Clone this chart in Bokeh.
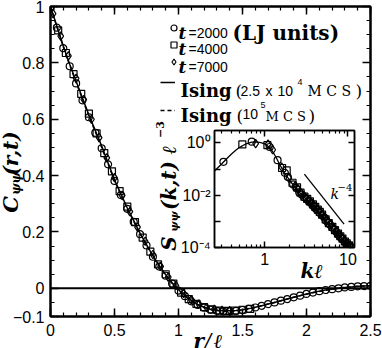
import math
from bokeh.plotting import figure
from bokeh.models import (Range1d, FixedTicker, LinearAxis, LogAxis, Label,
                          Legend, LegendItem, Span)
from bokeh.core.properties import value
from bokeh.embed import file_html
from bokeh.resources import INLINE

# ---------------- data: main panel C(r,t) ----------------
r_t2000 = [0.00, 0.05, 0.10, 0.15, 0.20, 0.25, 0.30, 0.35, 0.40, 0.45, 0.50,
           0.55, 0.60, 0.65, 0.70, 0.75, 0.80, 0.85, 0.90, 0.95, 1.00, 1.05,
           1.10, 1.15, 1.20, 1.25, 1.30, 1.35, 1.40, 1.45, 1.50, 1.55, 1.60,
           1.65, 1.70, 1.75, 1.80, 1.85, 1.90, 1.95, 2.00, 2.05, 2.10, 2.15,
           2.20, 2.25, 2.30, 2.35, 2.40, 2.45, 2.50]
C_t2000 = [1.000, 0.925, 0.852, 0.788, 0.727, 0.667, 0.607, 0.552, 0.497, 0.440,
           0.381, 0.331, 0.282, 0.236, 0.192, 0.152, 0.112, 0.077, 0.045, 0.017,
           -0.008, -0.028, -0.046, -0.059, -0.069, -0.076, -0.080, -0.082, -0.082,
           -0.080, -0.077, -0.073, -0.068, -0.062, -0.056, -0.050, -0.044, -0.038,
           -0.032, -0.026, -0.020, -0.015, -0.010, -0.006, -0.003, 0.000, 0.003,
           0.005, 0.007, 0.008, 0.009]

r_t4000 = [0.00, 0.06, 0.12, 0.18, 0.24, 0.30, 0.36, 0.42, 0.48, 0.54, 0.60,
           0.66, 0.72, 0.78, 0.84, 0.90, 0.96, 1.02, 1.08, 1.14, 1.20, 1.26,
           1.32, 1.38, 1.44, 1.50, 1.56]
C_t4000 = [1.000, 0.915, 0.835, 0.760, 0.690, 0.620, 0.550, 0.480, 0.415, 0.345,
           0.290, 0.235, 0.180, 0.130, 0.085, 0.050, 0.017, -0.015, -0.038, -0.055,
           -0.067, -0.075, -0.079, -0.080, -0.079, -0.076, -0.073]

r_t7000 = [0.02, 0.08, 0.14, 0.20, 0.26, 0.32, 0.38, 0.44, 0.50, 0.56, 0.62,
           0.68, 0.74, 0.80, 0.86, 0.92, 0.98, 1.04, 1.10, 1.16, 1.22, 1.28,
           1.34, 1.40]
C_t7000 = [0.975, 0.895, 0.825, 0.745, 0.670, 0.600, 0.535, 0.463, 0.393, 0.330,
           0.272, 0.217, 0.167, 0.120, 0.078, 0.040, 0.010, -0.018, -0.040, -0.056,
           -0.068, -0.075, -0.078, -0.079]

r_ising = [0.00, 0.05, 0.10, 0.15, 0.20, 0.25, 0.30, 0.35, 0.40, 0.45, 0.50,
           0.55, 0.60, 0.65, 0.70, 0.75, 0.80, 0.85, 0.90, 0.95, 1.00, 1.05,
           1.10, 1.15, 1.20, 1.25, 1.30, 1.35, 1.40, 1.45, 1.50, 1.55, 1.60,
           1.65, 1.70, 1.75, 1.80, 1.85, 1.90, 1.95, 2.00, 2.05, 2.10, 2.15,
           2.20, 2.25, 2.30, 2.35, 2.40, 2.45, 2.50]
C_ising_25e4 = [1.000, 0.930, 0.860, 0.795, 0.735, 0.675, 0.615, 0.560, 0.505, 0.445,
                0.385, 0.335, 0.285, 0.240, 0.195, 0.155, 0.115, 0.080, 0.048, 0.020,
                -0.005, -0.025, -0.043, -0.057, -0.067, -0.074, -0.078, -0.080, -0.080,
                -0.079, -0.076, -0.072, -0.067, -0.062, -0.056, -0.050, -0.044, -0.038,
                -0.032, -0.026, -0.020, -0.015, -0.010, -0.006, -0.003, 0.000, 0.003,
                0.005, 0.007, 0.008, 0.009]
C_ising_1e5 = [1.000, 0.928, 0.857, 0.792, 0.731, 0.671, 0.611, 0.556, 0.500, 0.441,
               0.382, 0.332, 0.283, 0.238, 0.193, 0.153, 0.113, 0.078, 0.046, 0.018,
               -0.007, -0.027, -0.045, -0.058, -0.068, -0.075, -0.079, -0.081, -0.081,
               -0.080, -0.077, -0.073, -0.068, -0.062, -0.056, -0.050, -0.044, -0.038,
               -0.032, -0.026, -0.021, -0.016, -0.011, -0.007, -0.003, 0.000, 0.003,
               0.005, 0.007, 0.008, 0.009]

x_ticks = [0, 0.5, 1, 1.5, 2, 2.5]
x_tick_labels = ["0", "0.5", "1", "1.5", "2", "2.5"]
y_ticks = [-0.1, 0, 0.2, 0.4, 0.6, 0.8, 1]
y_tick_labels = ["\u22120.1", "0", "0.2", "0.4", "0.6", "0.8", "1"]

# ---------------- data: inset S(k,t) ----------------
k_t2000 = [0.32, 0.70, 1.15, 1.43, 1.75, 1.9, 2.2, 2.4, 2.6, 2.8, 3.0, 3.2, 3.4,
           3.6, 3.85, 4.1, 4.35, 4.6, 4.9, 5.2, 5.5, 5.8, 6.1, 6.5, 6.9, 7.3,
           7.7, 8.1, 8.6, 9.1, 9.6, 10.2, 10.8]
S_t2000 = [0.19, 1.12, 0.70, 0.22, 0.072, 0.05, 0.026, 0.019, 0.013, 0.0105,
           0.0083, 0.0070, 0.0058, 0.0050, 0.0039, 0.0031, 0.0026, 0.0021, 0.0017,
           0.0014, 0.00105, 0.00088, 0.00074, 0.00060, 0.00048, 0.00039, 0.00031,
           0.00025, 0.00021, 0.00017, 0.00014, 0.000122, 0.000105]
k_t4000 = [0.54, 1.08, 1.62, 1.84, 2.16, 2.45, 2.7, 3.0, 3.25, 3.5, 3.8, 4.05,
           4.35, 4.6, 4.9, 5.4, 5.9, 6.5, 7.0, 7.6, 8.1, 8.6, 9.2, 9.7, 10.3, 11.2]
S_t4000 = [0.88, 0.82, 0.11, 0.09, 0.03, 0.02, 0.0125, 0.0088, 0.0072, 0.0058,
           0.0045, 0.0036, 0.0028, 0.0023, 0.0018, 0.0012, 0.00085, 0.00062,
           0.00046, 0.00034, 0.00027, 0.00022, 0.00017, 0.000145, 0.00012, 0.0001]
k_t7000 = [0.78, 1.1, 1.25, 1.6, 1.95, 2.3, 2.5, 2.75, 3.05, 3.35, 3.65, 3.95,
           4.25, 4.55, 4.9, 5.3, 5.7, 6.2, 6.7, 7.2, 7.8, 8.4, 9.0, 9.6, 10.2]
S_t7000 = [0.95, 0.90, 0.55, 0.12, 0.045, 0.022, 0.017, 0.012, 0.0085, 0.0066,
           0.0052, 0.0040, 0.0031, 0.0025, 0.0019, 0.0014, 0.0011, 0.00078,
           0.00056, 0.00044, 0.00032, 0.00025, 0.00019, 0.00015, 0.00013]
k_ising = [0.25, 0.3, 0.35, 0.4, 0.45, 0.5, 0.6, 0.7, 0.8, 0.9, 1.0, 1.1, 1.2,
           1.3, 1.4, 1.5, 1.7, 1.9, 2.1, 2.4, 2.7, 3.0, 3.5, 4.0, 4.5, 5.0, 5.6,
           6.0, 7.0, 8.0, 9.0, 10.0, 11.0, 12.0]
S_ising = [0.085, 0.15, 0.25, 0.38, 0.53, 0.68, 0.93, 1.08, 1.1, 1.04, 0.93, 0.75,
           0.56, 0.38, 0.25, 0.16, 0.078, 0.047, 0.03, 0.018, 0.0115, 0.0083,
           0.0053, 0.0034, 0.0022, 0.0015, 0.00092, 0.00072, 0.00043, 0.00026,
           0.00017, 0.00012, 0.0001, 0.000085]
k_porod = [3.0, 9.0]
S_porod = [0.064, 0.00079]

ix_ticks = [1, 10]
ix_minor = [0.3, 0.4, 0.5, 0.6, 0.7, 0.8, 0.9, 2, 3, 4, 5, 6, 7, 8, 9]
iy_ticks = [1e-4, 1e-3, 1e-2, 1e-1, 1]
iy_tick_labels = ["10\u207b\u2074", "", "10\u207b\u00b2", "", "10\u2070"]

# ---------------- layout constants ----------------
W, H = 382, 348
FL, FR, FT, FB = 50, 370, 6, 316
X0, X1, Y0, Y1 = 0.0, 2.5, -0.1, 1.0
SANS = "Liberation Sans"
SERIF = "DejaVu Serif"

p = figure(width=W, height=H, x_range=Range1d(X0, X1), y_range=Range1d(Y0, Y1),
           output_backend="svg", toolbar_location=None,
           x_axis_location=None, y_axis_location=None,
           min_border_left=FL, min_border_right=W - FR,
           min_border_top=FT, min_border_bottom=H - FB)
p.grid.visible = False
p.outline_line_color = "black"
p.outline_line_width = 2
p.background_fill_color = "white"
p.border_fill_color = "white"

xt = FixedTicker(ticks=x_ticks, minor_ticks=[round(0.1 * i, 1) for i in range(26)])
yt = FixedTicker(ticks=y_ticks, minor_ticks=[round(-0.1 + 0.05 * i, 2) for i in range(23)])


def style_axis(ax, show_labels, tick_in=8, minor_in=4, lw=2, size="16px", standoff=6):
    ax.axis_line_color = "black"
    ax.axis_line_width = lw
    ax.major_tick_in = tick_in
    ax.major_tick_out = 0
    ax.minor_tick_in = minor_in
    ax.minor_tick_out = 0
    ax.major_tick_line_width = 1.5
    ax.minor_tick_line_width = 1.2
    ax.major_tick_line_color = "black"
    ax.minor_tick_line_color = "black"
    if show_labels:
        ax.major_label_text_font = SANS
        ax.major_label_text_font_size = size
        ax.major_label_text_color = "black"
        ax.major_label_standoff = standoff
    else:
        ax.major_label_text_font_size = "0px"
        ax.major_label_text_alpha = 0
        ax.major_label_standoff = 0


bx = LinearAxis(ticker=xt, major_label_overrides=dict(zip(x_ticks, x_tick_labels)))
style_axis(bx, True, standoff=7)
ly = LinearAxis(ticker=yt, major_label_overrides=dict(zip(y_ticks, y_tick_labels)))
style_axis(ly, True, standoff=6)
tx = LinearAxis(ticker=xt)
style_axis(tx, False)
ry = LinearAxis(ticker=yt)
style_axis(ry, False)
p.add_layout(bx, "below")
p.add_layout(ly, "left")
p.add_layout(tx, "above")
p.add_layout(ry, "right")

p.add_layout(Span(location=0, dimension="width", line_color="black", line_width=2))

l1 = p.line(r_ising, C_ising_25e4, line_color="black", line_width=1.5)
l2 = p.line(r_ising, C_ising_1e5, line_color="black", line_width=1.5, line_dash="4 3")
mk = dict(size=7, fill_color=None, line_color="black", line_width=1.2)
sc = p.scatter(r_t2000, C_t2000, marker="circle", **mk)
ss = p.scatter(r_t4000, C_t4000, marker="square", **mk)
sd = p.scatter(r_t7000, C_t7000, marker="diamond", size=8.5, fill_color=None,
               line_color="black", line_width=1.2)

leg_common = dict(orientation="vertical", label_width=0, label_standoff=0, spacing=0,
                  padding=0, margin=0, border_line_alpha=0, background_fill_alpha=0,
                  label_text_font_size="1px", glyph_width=15)
leg1 = Legend(items=[LegendItem(label=value(" "), renderers=[sc]),
                     LegendItem(label=value(" "), renderers=[ss]),
                     LegendItem(label=value(" "), renderers=[sd])],
              location=(115.5, FB - 69.5), glyph_height=17, label_height=17, **leg_common)
leg2 = Legend(items=[LegendItem(label=value(" "), renderers=[l1]),
                     LegendItem(label=value(" "), renderers=[l2])],
              location=(110, FB - 124), glyph_height=28, label_height=28, **leg_common)
p.add_layout(leg1)
p.add_layout(leg2)

# ---------------- inset ----------------
IPX, IPY = 150, 115          # page position of the inset canvas
IW, IH = 220, 177
IL, IR, IT, IB = 214, 354, 130, 247   # inset frame in page px
K0, K1, S0, S1 = 0.25, 12.0, 1e-4, 3.0

inset = figure(width=IW, height=IH, x_axis_type="log", y_axis_type="log",
               x_range=Range1d(K0, K1), y_range=Range1d(S0, S1),
               output_backend="svg", toolbar_location=None,
               x_axis_location=None, y_axis_location=None,
               min_border_left=IL - IPX, min_border_right=IPX + IW - IR,
               min_border_top=IT - IPY, min_border_bottom=IPY + IH - IB,
               styles={"position": "absolute", "left": f"{IPX}px", "top": f"{IPY}px",
                       "width": f"{IW}px", "height": f"{IH}px"})
inset.grid.visible = False
inset.outline_line_color = "black"
inset.outline_line_width = 1.5
inset.background_fill_color = "white"
inset.border_fill_color = None

ixt = FixedTicker(ticks=ix_ticks, minor_ticks=ix_minor)
iyt = FixedTicker(ticks=iy_ticks, minor_ticks=[])
ibx = LogAxis(ticker=ixt, major_label_overrides={1: "1", 10: "10"})
style_axis(ibx, True, tick_in=6, minor_in=3, lw=1.5, size="16px", standoff=5)
ily = LogAxis(ticker=iyt, major_label_overrides=dict(zip(iy_ticks, iy_tick_labels)))
style_axis(ily, True, tick_in=6, minor_in=3, lw=1.5, size="16px", standoff=4)
itx = LogAxis(ticker=ixt)
style_axis(itx, False, tick_in=6, minor_in=3, lw=1.5)
iry = LogAxis(ticker=iyt)
style_axis(iry, False, tick_in=6, minor_in=3, lw=1.5)
inset.add_layout(ibx, "below")
inset.add_layout(ily, "left")
inset.add_layout(itx, "above")
inset.add_layout(iry, "right")

inset.line(k_ising, S_ising, line_color="black", line_width=1.3)
inset.line(k_porod, S_porod, line_color="black", line_width=1.3)
inset.scatter(k_t2000, S_t2000, marker="circle", **mk)
inset.scatter(k_t4000, S_t4000, marker="square", **mk)
inset.scatter(k_t7000, S_t7000, marker="diamond", size=8.5, fill_color=None,
              line_color="black", line_width=1.2)

# ---------------- transparent text layer over the whole page ----------------
txt = figure(width=W, height=H, x_range=Range1d(0, 1), y_range=Range1d(0, 1),
             output_backend="svg", toolbar_location=None,
             x_axis_location=None, y_axis_location=None,
             min_border_left=0, min_border_right=0, min_border_top=0, min_border_bottom=0,
             styles={"position": "absolute", "left": "0px", "top": "0px",
                     "width": f"{W}px", "height": f"{H}px"})
txt.grid.visible = False
txt.outline_line_color = None
txt.background_fill_color = None
txt.border_fill_color = None


def lab(text, px, py, size, font=SANS, style="normal"):
    # horizontal text: px = left edge, py = baseline (page pixels from top-left)
    txt.add_layout(Label(x=px, y=H - py, x_units="screen", y_units="screen",
                         text=text, text_font=font, text_font_size=size,
                         text_font_style=style, text_color="black",
                         text_align="left", text_baseline="alphabetic"))


def vlab(text, cx, cy, size, font=SERIF, style="bold italic"):
    # vertical text reading upward, placed by its centre (page pixels)
    txt.add_layout(Label(x=cx, y=H - cy, x_units="screen", y_units="screen",
                         text=text, text_font=font, text_font_size=size,
                         text_font_style=style, text_color="black",
                         angle=math.pi / 2, text_align="center", text_baseline="middle"))


# legend texts
for base, num in [(32, "=2000"), (48.5, "=4000"), (66, "=7000")]:
    lab("t", 178, base, "17px", SERIF, "bold italic")
    lab(num, 188, base, "14px", SANS)
lab("(LJ units)", 232, 32, "20px", SERIF, "bold")

lab("Ising", 180, 90, "18px", SERIF, "bold")
lab("(", 235, 90, "17px", SERIF)
lab("2.5", 240, 90, "14px", SANS)
lab("x", 265, 90, "14px", SANS)
lab("10", 277, 90, "14px", SANS)
lab("4", 297, 81, "9px", SANS)
lab("M C S", 307, 90, "14px", SERIF)
lab(")", 355, 90, "17px", SERIF)

lab("Ising", 180, 115, "18px", SERIF, "bold")
lab("(", 236, 115, "17px", SERIF)
lab("10", 242, 113, "14px", SANS)
lab("5", 260, 104, "9px", SANS)
lab("M C S", 265, 116, "13px", SERIF)
lab(")", 308, 115, "17px", SERIF)

# axis titles of main panel
vlab("C", 10, 204, "21px")
vlab("\u03c8\u03c8", 15, 183, "12px")
vlab("(r,t)", 10, 153, "20px")
lab("r", 193, 340, "20px", SERIF, "bold italic")
lab("/", 204, 340, "20px", SERIF, "italic")
lab("\u2113", 213, 340, "20px", SERIF, "italic")

# inset texts
lab("k", 330, 193, "14px", SERIF, "italic")
lab("\u22124", 337, 187, "10px", SERIF)
lab("k\u2113", 300, 270, "20px", SERIF, "bold italic")

vlab("S", 168, 243, "20px")
vlab("\u03c8\u03c8", 174, 221, "11px")
vlab("(k,t)", 168, 185, "20px")
vlab("\u2113", 168, 150, "20px", SERIF, "italic")
vlab("\u22123", 159, 129, "11px", SERIF, "bold")

open("out.html", "w").write(file_html((p, inset, txt), INLINE))
